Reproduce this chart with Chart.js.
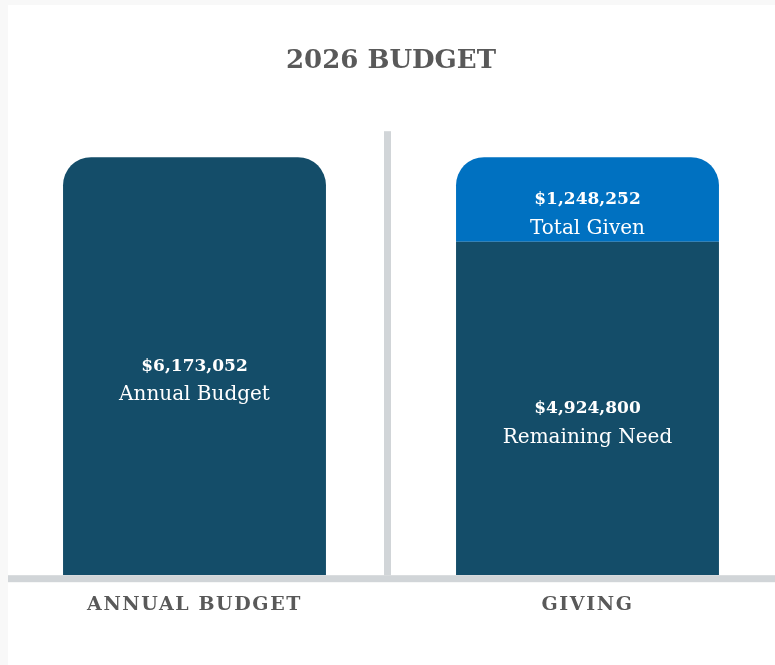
<!DOCTYPE html>
<html>
<head>
<meta charset="utf-8">
<title>2026 Budget</title>
<script src="https://cdn.jsdelivr.net/npm/chart.js@4.4.1/dist/chart.umd.min.js"></script>
<style>
    html, body { margin: 0; padding: 0; background: #f8f8f8; overflow: hidden; }
    body { width: 775px; height: 665px; position: relative; }
    .panel { position: absolute; left: 8px; top: 5px; right: 0; bottom: 0; background: #fff; }
    .chart-box { position: absolute; left: -2px; top: 0; width: 786px; height: 665px; }
</style>
</head>
<body>
<div class="panel"></div>
<div class="chart-box"><canvas id="budgetChart"></canvas></div>
<script>
// Chart values
const categories = ['ANNUAL BUDGET', 'GIVING'];
const remainingValues = [6173052, 4924800];
const givenValues = [null, 1248252];
const remainingCaptions = ['Annual Budget', 'Remaining Need'];
const givenCaptions = [null, 'Total Given'];

const DARK = '#144d69';
const BLUE = '#0071c1';
const LINE_GRAY = '#d1d5d8';
const TEXT_GRAY = '#595959';
const SERIF = '"DejaVu Serif", serif';

function money(v) {
    return '$' + v.toLocaleString('en-US');
}

// Divider, baseline and labels inside the bars
const budgetDecor = {
    id: 'budgetDecor',
    beforeDatasetsDraw(chart) {
        const ctx = chart.ctx;
        const area = chart.chartArea;
        const x = chart.scales.x;
        const mid = (x.getPixelForValue(0) + x.getPixelForValue(1)) / 2 - 3.5;
        ctx.save();
        ctx.fillStyle = LINE_GRAY;
        ctx.fillRect(mid - 3.5, area.top, 7, area.bottom - area.top);
        ctx.restore();
    },
    afterDatasetsDraw(chart) {
        const ctx = chart.ctx;
        const area = chart.chartArea;
        ctx.save();
        ctx.fillStyle = LINE_GRAY;
        ctx.fillRect(10, area.bottom, chart.width - 10, 7);

        ctx.fillStyle = '#ffffff';
        ctx.textAlign = 'center';
        ctx.textBaseline = 'middle';
        const sets = [
            { meta: chart.getDatasetMeta(0), values: remainingValues, captions: remainingCaptions },
            { meta: chart.getDatasetMeta(1), values: givenValues, captions: givenCaptions }
        ];
        sets.forEach(s => {
            s.meta.data.forEach((bar, i) => {
                if (s.values[i] == null) return;
                const cy = (bar.y + bar.base) / 2;
                ctx.font = 'bold 17px ' + SERIF;
                ctx.fillText(money(s.values[i]), bar.x, cy);
                ctx.font = '20px ' + SERIF;
                ctx.fillText(s.captions[i], bar.x, cy + 29);
            });
        });
        ctx.restore();
        // letter spacing for the category labels drawn next (ticks z = 1)
        ctx.letterSpacing = '1.6px';
    },
    afterDraw(chart) {
        chart.ctx.letterSpacing = '0px';
    }
};

const budgetCtx = document.getElementById('budgetChart').getContext('2d');
window.budgetChart = new Chart(budgetCtx, {
    type: 'bar',
    data: {
        labels: categories,
        datasets: [{
            label: 'Remaining Need',
            data: remainingValues,
            backgroundColor: DARK,
            borderSkipped: 'start',
            borderRadius: function(context) {
                return context.dataIndex === 0 ? { topLeft: 28, topRight: 28, bottomLeft: 0, bottomRight: 0 } : 0;
            }
        }, {
            label: 'Total Given',
            data: givenValues,
            backgroundColor: BLUE,
            borderSkipped: 'start',
            borderRadius: { topLeft: 28, topRight: 28, bottomLeft: 0, bottomRight: 0 }
        }]
    },
    options: {
        responsive: true,
        maintainAspectRatio: false,
        animation: false,
        layout: { padding: { top: 0, bottom: 31, left: 0, right: 0 } },
        datasets: {
            bar: { categoryPercentage: 1, barPercentage: 0.669 }
        },
        scales: {
            x: {
                stacked: true,
                grid: { display: false, drawTicks: false },
                border: { display: false },
                ticks: {
                    z: 1,
                    padding: 18,
                    color: TEXT_GRAY,
                    font: { family: SERIF, size: 19, weight: 'bold' }
                }
            },
            y: {
                stacked: true,
                display: false,
                min: 0,
                max: 6556000
            }
        },
        plugins: {
            legend: { display: false },
            tooltip: { enabled: false },
            title: {
                display: true,
                text: '2026 BUDGET',
                color: TEXT_GRAY,
                font: { family: SERIF, size: 26, weight: 'bold' },
                padding: { top: 46, bottom: 54 }
            }
        }
    },
    plugins: [budgetDecor]
});
</script>
</body>
</html>
